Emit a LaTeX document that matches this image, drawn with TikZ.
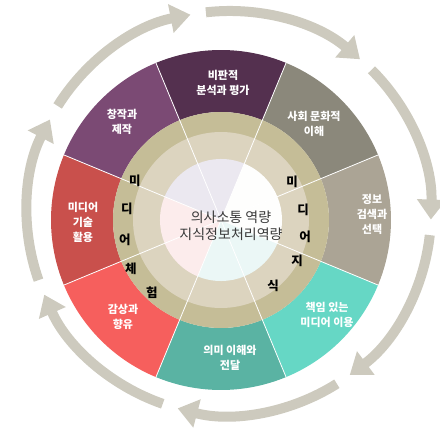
\documentclass[tikz,border=0pt]{standalone}
\usepackage{fontspec}
\setmainfont{Noto Sans CJK KR}
\usetikzlibrary{arrows.meta}
\definecolor{critpurple}{RGB}{84,48,79}
\definecolor{creapurple}{RGB}{123,74,116}
\definecolor{socgrey}{RGB}{139,136,123}
\definecolor{infogrey}{RGB}{171,164,149}
\definecolor{mint}{RGB}{102,215,197}
\definecolor{teal}{RGB}{90,179,163}
\definecolor{salmon}{RGB}{246,95,93}
\definecolor{brick}{RGB}{201,80,76}
\definecolor{goldring}{RGB}{197,189,151}
\definecolor{lightring}{RGB}{220,212,191}
\definecolor{lavender}{RGB}{235,232,240}
\definecolor{whitish}{RGB}{254,254,253}
\definecolor{cyanish}{RGB}{235,247,246}
\definecolor{pinkish}{RGB}{252,236,236}
\definecolor{arrowgrey}{RGB}{205,202,190}
\definecolor{centertext}{RGB}{58,58,58}

\begin{document}
\begin{tikzpicture}[x=1pt, y=1pt, >={Triangle[width=28pt, length=20pt]},
	seglabel/.style={text=white, align=center, font=\fontsize{11}{15}\selectfont\bfseries},
	ringchar/.style={text=black, font=\fontsize{12.5}{12.5}\selectfont\bfseries},
	divider/.style={white, line width=0.8pt},
	arrowband/.style={arrowgrey, line width=10pt, ->}]
	\useasboundingbox (-221,-221) rectangle (218,220);
	%%%	Frecce
	\foreach \a [evaluate=\a as \s using 148-51.43*\a] in {0,...,6}
	\draw[arrowband, shift={(8,7)}] (\s:202) arc [start angle=\s, end angle=\s-47, radius=202];
	%%%	Anello esterno
	\foreach \a/\c in {90/critpurple, 45/socgrey, 0/infogrey, -45/mint, -90/teal, -135/salmon, 180/brick, 135/creapurple}
	\fill[\c] ({\a-22.5}:108) arc [start angle=\a-22.5, end angle=\a+22.5, radius=108] -- ({\a+22.5}:170) arc [start angle=\a+22.5, end angle=\a-22.5, radius=170] -- cycle;
	%%%	Anelli interni
	\fill[goldring] (0,0) circle (108);
	\fill[lightring] (0,0) circle (88);
	\fill[lavender] (0,0) -- (67.5:61) arc [start angle=67.5, end angle=157.5, radius=61] -- cycle;
	\fill[pinkish] (0,0) -- (157.5:61) arc [start angle=157.5, end angle=247.5, radius=61] -- cycle;
	\fill[cyanish] (0,0) -- (247.5:61) arc [start angle=247.5, end angle=337.5, radius=61] -- cycle;
	\fill[whitish] (0,0) -- (-22.5:61) arc [start angle=-22.5, end angle=67.5, radius=61] -- cycle;
	\foreach \a in {22.5, 67.5, ..., 337.5}
	\draw[divider] (0,0) -- (\a:170);
	%%%	Testi
	\node[seglabel] (bipan) at (2,137) {비판적\\분석과 평가};
	\node[seglabel] (sahoe) at (93,96) {사회 문화적\\이해};
	\node[seglabel] (jeongbo) at (151,6) {정보\\검색과\\선택};
	\node[seglabel] (chaegim) at (106,-95) {책임 있는\\미디어 이용};
	\node[seglabel] (uimi) at (9,-138) {의미 이해와\\전달};
	\node[seglabel] (gamsang) at (-98,-97) {감상과\\향유};
	\node[seglabel] (gisul) at (-138,-2) {미디어\\기술\\활용};
	\node[seglabel] (changjak) at (-99,98) {창작과\\제작};
	\node[text=centertext, align=center, font=\fontsize{14}{17}\selectfont] (yeokryang) at (10,-6) {의사소통 역량\\지식정보처리역량};
	%	미디어 체험
	\node[ringchar] (lmi) at (-86,39) {미};
	\node[ringchar] (ldi) at (-94,11) {디};
	\node[ringchar] (leo) at (-96,-20) {어};
	\node[ringchar] (lche) at (-90,-49) {체};
	\node[ringchar] (lheom) at (-69,-73) {험};
	%	미디어 지식
	\node[ringchar] (rmi) at (71,38) {미};
	\node[ringchar] (rdi) at (82,10) {디};
	\node[ringchar] (reo) at (84,-17) {어};
	\node[ringchar] (rji) at (76,-41) {지};
	\node[ringchar] (rsik) at (52,-66) {식};
\end{tikzpicture}
\end{document}
